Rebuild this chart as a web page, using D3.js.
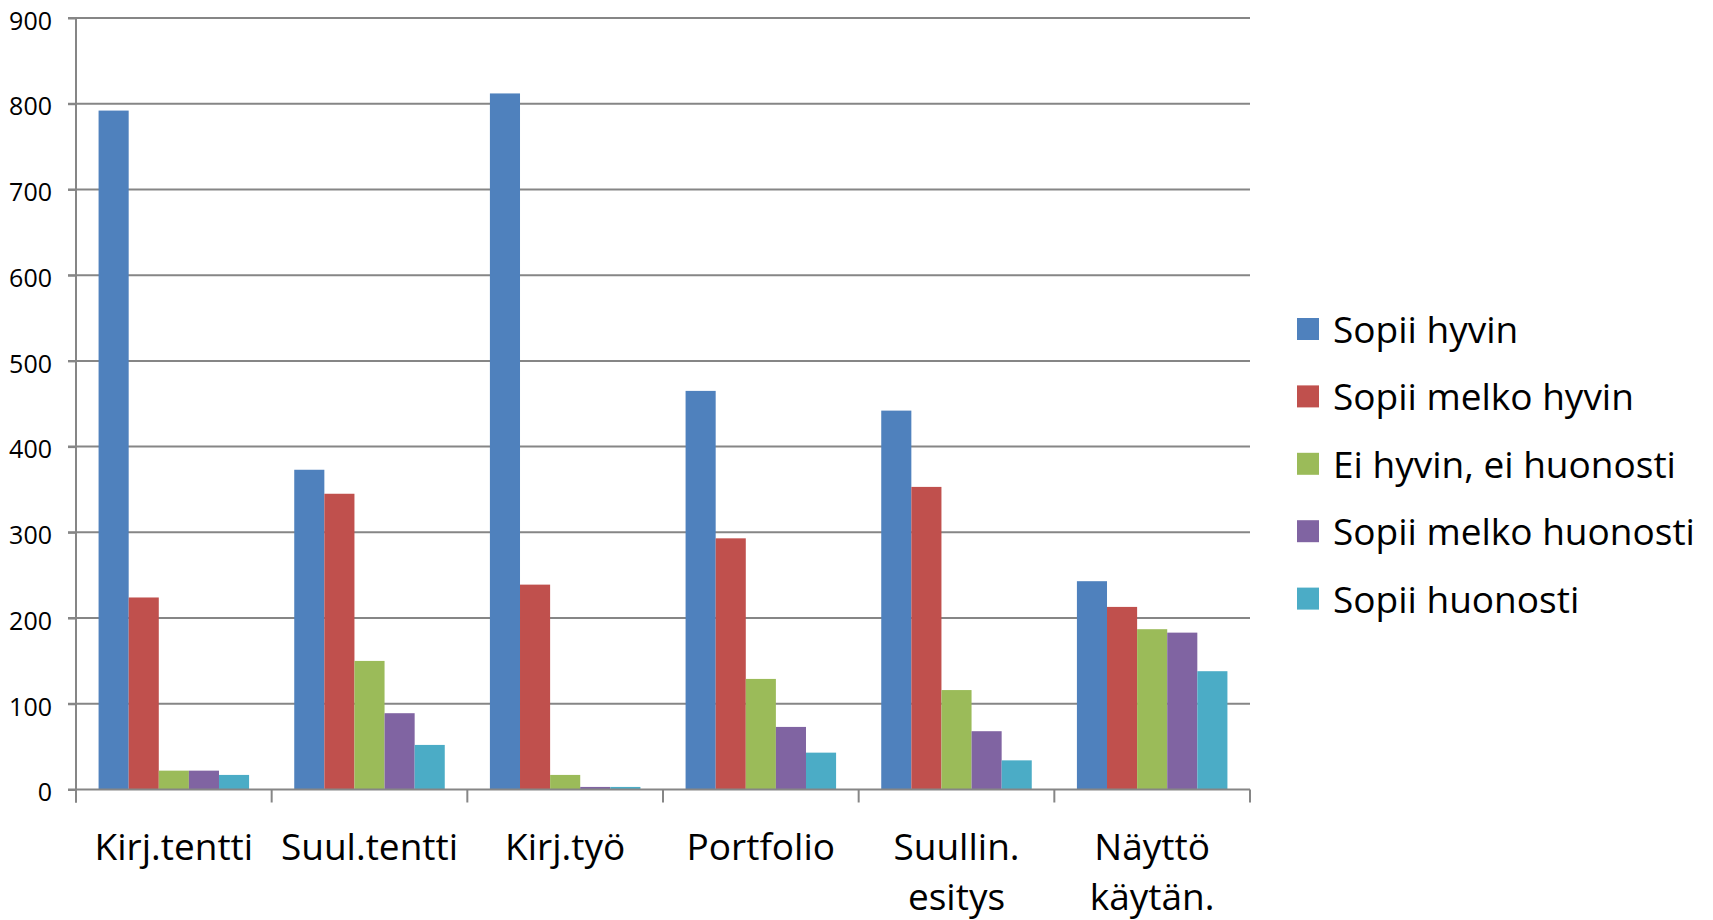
<!DOCTYPE html>
<html>
<head>
<meta charset="utf-8">
<script src="https://cdn.jsdelivr.net/npm/d3@7"></script>
<style>
  html, body { margin: 0; padding: 0; background: #ffffff; }
  svg { display: block; }
  text { font-family: "Open Sans", Lato, sans-serif; fill: #000; }
</style>
</head>
<body>
<svg id="chart" width="1713" height="920"></svg>
<script>
const categories = [["Kirj.tentti"], ["Suul.tentti"], ["Kirj.työ"], ["Portfolio"], ["Suullin.", "esitys"], ["Näyttö", "käytän."]];
const seriesNames = ["Sopii hyvin", "Sopii melko hyvin", "Ei hyvin, ei huonosti", "Sopii melko huonosti", "Sopii huonosti"];
const seriesColors = ["#4F81BD", "#C0504D", "#9BBB59", "#8064A2", "#4BACC6"];
const sopiiHyvin        = [792, 373, 812, 465, 442, 243];
const sopiiMelkoHyvin   = [224, 345, 239, 293, 353, 213];
const eiHyvinEiHuonosti = [22, 150, 17, 129, 116, 187];
const sopiiMelkoHuonosti= [22, 89, 3, 73, 68, 183];
const sopiiHuonosti     = [17, 52, 3, 43, 34, 138];
const yTicks = [0, 100, 200, 300, 400, 500, 600, 700, 800, 900];

const series = [sopiiHyvin, sopiiMelkoHyvin, eiHyvinEiHuonosti, sopiiMelkoHuonosti, sopiiHuonosti];

const svg = d3.select("#chart");
const mLeft = 76, mRight = 1250, mTop = 18, mBottom = 789.5;

const x0 = d3.scaleBand()
  .domain(d3.range(categories.length))
  .range([mLeft, mRight])
  .paddingInner(1.5 / 6.5)
  .paddingOuter(0.75 / 6.5);
const x1 = d3.scaleBand()
  .domain(d3.range(seriesNames.length))
  .range([0, x0.bandwidth()]);
const y = d3.scaleLinear().domain([0, 900]).range([mBottom, mTop]);

const gridColor = "#868686";

// gridlines
svg.append("g").selectAll("line").data(yTicks.filter(d => d > 0)).join("line")
  .attr("x1", mLeft - 8).attr("x2", mRight)
  .attr("y1", d => y(d)).attr("y2", d => y(d))
  .attr("stroke", gridColor).attr("stroke-width", 2);

// y axis
const yAxis = svg.append("g").attr("transform", `translate(${mLeft},0)`)
  .call(d3.axisLeft(y).tickValues(yTicks).tickSize(8).tickPadding(16));
yAxis.select(".domain").remove();
yAxis.selectAll("line").attr("stroke", gridColor).attr("stroke-width", 2);
yAxis.selectAll("text").attr("font-size", 25).attr("font-family", "Open Sans").attr("dy", "0.45em").attr("fill", "#000");
svg.append("line").attr("x1", mLeft).attr("x2", mLeft).attr("y1", mTop).attr("y2", mBottom + 13)
  .attr("stroke", gridColor).attr("stroke-width", 2);

// bars
const groups = svg.append("g").selectAll("g").data(categories).join("g")
  .attr("transform", (d, i) => `translate(${x0(i)},0)`);
groups.selectAll("rect").data((d, i) => series.map((s, j) => ({ j, v: s[i] }))).join("rect")
  .attr("x", d => x1(d.j))
  .attr("width", x1.bandwidth())
  .attr("y", d => y(d.v))
  .attr("height", d => y(0) - y(d.v))
  .attr("fill", d => seriesColors[d.j]);

// x axis baseline and ticks
svg.append("line").attr("x1", mLeft - 8).attr("x2", mRight).attr("y1", mBottom).attr("y2", mBottom)
  .attr("stroke", gridColor).attr("stroke-width", 2);
const step = x0.step();
svg.append("g").selectAll("line").data(d3.range(categories.length + 1)).join("line")
  .attr("x1", i => mLeft + i * step).attr("x2", i => mLeft + i * step)
  .attr("y1", mBottom).attr("y2", mBottom + 13)
  .attr("stroke", gridColor).attr("stroke-width", 2);

// x labels
const lbl = svg.append("g").selectAll("text").data(categories).join("text")
  .attr("x", (d, i) => x0(i) + x0.bandwidth() / 2)
  .attr("y", 860)
  .attr("text-anchor", "middle")
  .attr("font-size", 37);
lbl.selectAll("tspan").data(d => d).join("tspan")
  .attr("x", function () { return d3.select(this.parentNode).attr("x"); })
  .attr("dy", (d, k) => k === 0 ? 0 : 50)
  .text(d => d);

// legend
const leg = svg.append("g").selectAll("g").data(seriesNames).join("g")
  .attr("transform", (d, i) => `translate(1297,${318 + i * 67.4})`);
leg.append("rect").attr("width", 22).attr("height", 22).attr("fill", (d, i) => seriesColors[i]);
leg.append("text").attr("x", 36).attr("y", 25).attr("font-size", 37).text(d => d);
</script>
</body>
</html>
